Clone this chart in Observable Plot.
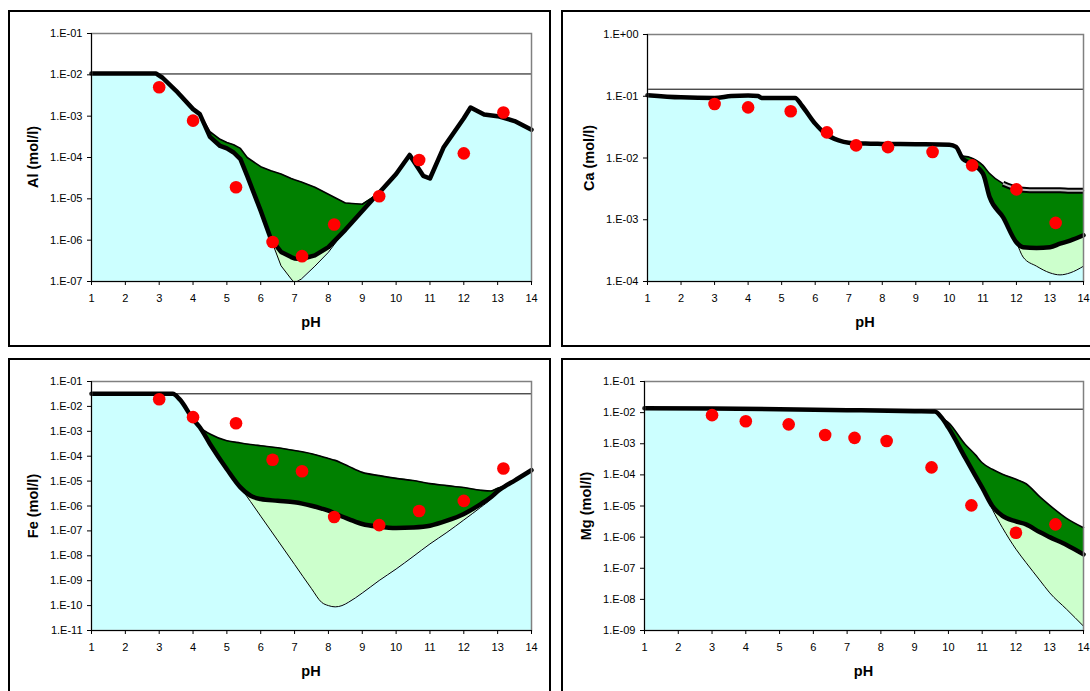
<!DOCTYPE html>
<html><head><meta charset="utf-8">
<script src="https://cdn.jsdelivr.net/npm/d3@7"></script>
<script src="https://cdn.jsdelivr.net/npm/@observablehq/plot@0.6"></script>
<style>
body{margin:0;background:#fff;width:1090px;height:691px;overflow:hidden;position:relative;font-family:"Liberation Sans",Arial,sans-serif;}
.box{position:absolute;border:2px solid #000;box-sizing:border-box;pointer-events:none;}
.panel{position:absolute;}
.ttl{position:absolute;font-weight:bold;font-size:14.5px;white-space:nowrap;transform:translate(-50%,-50%);color:#000;}
.ytl{transform:translate(-50%,-50%) rotate(-90deg);}
</style></head><body>
<script>
// ---------- shared ----------
const xTicks = [1,2,3,4,5,6,7,8,9,10,11,12,13,14];
const dotPH = [3.0, 4.0, 5.27, 6.35, 7.22, 8.17, 9.5, 10.68, 12.0, 13.17];

// ---------- Al ----------
const alTicks = [1e-7,1e-6,1e-5,1e-4,1e-3,1e-2,1e-1];
const alTop = 1.05e-2;
const alPH    = [1, 2, 2.9, 3.1, 3.5, 4, 4.2, 4.5, 4.8, 5, 5.2, 5.4, 5.6, 6, 6.3, 6.6, 6.9, 7, 7.2, 7.6, 8, 8.5, 9, 9.3, 9.5, 10, 10.4, 10.8, 11, 11.4, 12, 12.2, 12.6, 13, 13.5, 14];
const alMid   = [1.08e-2, 1.08e-2, 1.08e-2, 8.5e-3, 4.1e-3, 1.48e-3, 1.12e-3, 3.16e-4, 1.9e-4, 1.66e-4, 1.32e-4, 9.1e-5, 3.6e-5, 5.1e-6, 1.07e-6, 5.2e-7, 3.9e-7, 3.6e-7, 3.5e-7, 4.3e-7, 6.8e-7, 1.78e-6, 5.1e-6, 9.5e-6, 1.41e-5, 4.0e-5, 1.15e-4, 3.6e-5, 3.1e-5, 1.74e-4, 8.9e-4, 1.62e-3, 1.10e-3, 1.0e-3, 7.6e-4, 4.7e-4];
const alUpper = [1.08e-2, 1.08e-2, 1.08e-2, 8.5e-3, 4.1e-3, 1.48e-3, 1.12e-3, 4.2e-4, 2.75e-4, 2.3e-4, 2.04e-4, 1.66e-4, 1.0e-4, 6.0e-5, 4.8e-5, 4.0e-5, 3.1e-5, 2.9e-5, 2.57e-5, 1.9e-5, 1.29e-5, 7.9e-6, 7.4e-6, 1.07e-5, 1.41e-5, 4.0e-5, 1.15e-4, 3.6e-5, 3.1e-5, 1.74e-4, 8.9e-4, 1.62e-3, 1.10e-3, 1.0e-3, 7.6e-4, 4.7e-4];
const alLower = [1.08e-2, 1.08e-2, 1.08e-2, 8.5e-3, 4.1e-3, 1.48e-3, 1.12e-3, 3.16e-4, 1.9e-4, 1.66e-4, 1.32e-4, 9.1e-5, 3.6e-5, 5.1e-6, 1.07e-6, 2.4e-7, 1.15e-7, 9.3e-8, 1.15e-7, 2.35e-7, 5.1e-7, 1.78e-6, 5.1e-6, 9.5e-6, 1.41e-5, 4.0e-5, 1.15e-4, 3.6e-5, 3.1e-5, 1.74e-4, 8.9e-4, 1.62e-3, 1.10e-3, 1.0e-3, 7.6e-4, 4.7e-4];
const alDots  = [5.0e-3, 7.8e-4, 1.9e-5, 9.0e-7, 4.1e-7, 2.4e-6, 1.15e-5, 8.7e-5, 1.26e-4, 1.23e-3];

// ---------- Ca ----------
const caTicks = [1e-4,1e-3,1e-2,1e-1,1e0];
const caTop = 1.3e-1;
const caPH    = [1, 2, 3, 3.5, 4, 4.3, 4.4, 5, 5.4, 5.6, 6, 6.3, 6.7, 7, 7.5, 8, 9, 10, 10.2, 10.4, 10.6, 11, 11.2, 11.6, 12, 12.2, 12.6, 13, 13.3, 13.6, 14];
const caMid   = [1.04e-1, 9.6e-2, 9.4e-2, 1.01e-1, 1.03e-1, 1.01e-1, 9.4e-2, 9.4e-2, 9.4e-2, 7.1e-2, 3.6e-2, 2.48e-2, 1.93e-2, 1.77e-2, 1.71e-2, 1.69e-2, 1.67e-2, 1.64e-2, 1.51e-2, 9.7e-3, 8.4e-3, 5.6e-3, 2.33e-3, 1.10e-3, 4.3e-4, 3.6e-4, 3.5e-4, 3.6e-4, 4.1e-4, 4.6e-4, 5.6e-4];
const caUpper = [1.04e-1, 9.6e-2, 9.4e-2, 1.01e-1, 1.03e-1, 1.01e-1, 9.4e-2, 9.4e-2, 9.4e-2, 7.1e-2, 3.6e-2, 2.48e-2, 1.93e-2, 1.77e-2, 1.71e-2, 1.69e-2, 1.67e-2, 1.64e-2, 1.51e-2, 1.08e-2, 1.03e-2, 7.6e-3, 5.6e-3, 3.84e-3, 3.2e-3, 3.06e-3, 3.0e-3, 3.0e-3, 3.0e-3, 2.95e-3, 2.95e-3];
const caLower = [1.04e-1, 9.6e-2, 9.4e-2, 1.01e-1, 1.03e-1, 1.01e-1, 9.4e-2, 9.4e-2, 9.4e-2, 7.1e-2, 3.6e-2, 2.48e-2, 1.93e-2, 1.77e-2, 1.71e-2, 1.69e-2, 1.67e-2, 1.64e-2, 1.51e-2, 9.7e-3, 8.4e-3, 5.6e-3, 2.33e-3, 1.10e-3, 4.3e-4, 2.48e-4, 1.77e-4, 1.38e-4, 1.28e-4, 1.38e-4, 1.77e-4];
const caDots  = [7.5e-2, 6.6e-2, 5.7e-2, 2.6e-2, 1.6e-2, 1.5e-2, 1.25e-2, 7.6e-3, 3.1e-3, 8.9e-4];

// ---------- Fe ----------
const feTicks = [1e-11,1e-10,1e-9,1e-8,1e-7,1e-6,1e-5,1e-4,1e-3,1e-2,1e-1];
const feTop = 3.2e-2;
const fePH    = [1, 2, 3, 3.4, 3.6, 4, 4.2, 4.5, 5, 5.4, 5.7, 6, 6.5, 7, 7.5, 7.8, 8, 8.2, 8.4, 8.6, 9, 9.5, 10, 10.5, 11, 11.5, 12, 12.5, 12.8, 13, 13.2, 13.5, 14];
const feMid   = [3.2e-2, 3.2e-2, 3.2e-2, 3.2e-2, 1.95e-2, 3.1e-3, 1.45e-3, 3.1e-4, 3.0e-5, 5.6e-6, 2.57e-6, 1.9e-6, 1.62e-6, 1.41e-6, 1.02e-6, 7.9e-7, 6.5e-7, 5.0e-7, 3.8e-7, 3.0e-7, 1.9e-7, 1.48e-7, 1.32e-7, 1.38e-7, 1.62e-7, 2.57e-7, 4.8e-7, 1.2e-6, 2.24e-6, 3.9e-6, 6.0e-6, 1.05e-5, 2.75e-5];
const feUpper = [3.2e-2, 3.2e-2, 3.2e-2, 3.2e-2, 1.95e-2, 3.1e-3, 1.45e-3, 7.8e-4, 4.2e-4, 3.4e-4, 2.95e-4, 2.63e-4, 2.19e-4, 1.7e-4, 1.26e-4, 9.8e-5, 8.1e-5, 6.8e-5, 5.2e-5, 3.9e-5, 2.24e-5, 1.66e-5, 1.29e-5, 1.05e-5, 7.9e-6, 6.6e-6, 5.5e-6, 4.3e-6, 4.0e-6, 5.2e-6, 6.2e-6, 1.05e-5, 2.75e-5];
const feLower = [3.2e-2, 3.2e-2, 3.2e-2, 3.2e-2, 1.95e-2, 3.1e-3, 1.45e-3, 3.1e-4, 3.0e-5, 5.6e-6, 1.5e-6, 3.9e-7, 4.2e-8, 4.5e-9, 4.8e-10, 1.35e-10, 1.0e-10, 8.9e-11, 1.0e-10, 1.38e-10, 3.2e-10, 1.02e-9, 2.95e-9, 9.3e-9, 3.0e-8, 8.7e-8, 2.75e-7, 8.9e-7, 1.9e-6, 3.9e-6, 6.0e-6, 1.05e-5, 2.75e-5];
const feDots  = [1.95e-2, 3.7e-3, 2.1e-3, 7.2e-5, 2.5e-5, 3.6e-7, 1.7e-7, 6.3e-7, 1.6e-6, 3.2e-5];

// ---------- Mg ----------
const mgTicks = [1e-9,1e-8,1e-7,1e-6,1e-5,1e-4,1e-3,1e-2,1e-1];
const mgTop = 1.29e-2;
const mgPH    = [1, 3, 5, 7, 9, 9.6, 9.8, 10, 10.5, 10.8, 11, 11.3, 11.6, 12, 12.3, 12.7, 13, 13.5, 14];
const mgMid   = [1.39e-2, 1.35e-2, 1.29e-2, 1.2e-2, 1.11e-2, 1.08e-2, 6.9e-3, 3.3e-3, 3.5e-4, 9.3e-5, 3.9e-5, 1.0e-5, 4.8e-6, 3.2e-6, 2.57e-6, 1.45e-6, 1.0e-6, 5.6e-7, 2.8e-7];
const mgUpper = [1.39e-2, 1.35e-2, 1.29e-2, 1.2e-2, 1.11e-2, 1.08e-2, 6.9e-3, 4.8e-3, 9.5e-4, 4.4e-4, 2.45e-4, 1.51e-4, 1.05e-4, 7.2e-5, 5.2e-5, 2.0e-5, 1.05e-5, 4.0e-6, 2.0e-6];
const mgLower = [1.39e-2, 1.35e-2, 1.29e-2, 1.2e-2, 1.11e-2, 1.08e-2, 6.9e-3, 3.3e-3, 3.5e-4, 9.3e-5, 3.9e-5, 7.8e-6, 2.0e-6, 4.1e-7, 1.51e-7, 4.2e-8, 1.62e-8, 4.8e-9, 1.38e-9];
const mgDots  = [8.3e-3, 5.3e-3, 4.2e-3, 1.9e-3, 1.54e-3, 1.23e-3, 1.74e-4, 1.05e-5, 1.38e-6, 2.57e-6];

// ---------- drawing ----------
const fmt = d => { const e = Math.round(Math.log10(d)); return "1.E" + (e < 0 ? "-" : "+") + String(Math.abs(e)).padStart(2, "0"); };

function panel(cfg) {
  const rows = cfg.ph.map((p, i) => ({pH: p, upper: cfg.upper[i], mid: cfg.mid[i], lower: cfg.lower[i]}));
  const dots = dotPH.map((p, i) => ({pH: p, c: cfg.dots[i]}));
  const ymin = cfg.ticks[0], ymax = cfg.ticks[cfg.ticks.length - 1];
  const curve = cfg.curve;
  const upperMarks = [Plot.line(rows, {x: "pH", y: "upper", stroke: "#000", strokeWidth: 1.6, curve})];
  if (cfg.grayUpper) {
    const tail = rows.filter(d => d.pH >= 11.6);
    upperMarks.push(
      Plot.line(tail, {x: "pH", y: "upper", stroke: "#000", strokeWidth: 6, strokeLinecap: "butt", curve}),
      Plot.line(tail, {x: "pH", y: "upper", stroke: "#C0C0C0", strokeWidth: 2, strokeLinecap: "butt", curve}));
  }
  const svg = Plot.plot({
    width: cfg.w, height: cfg.h,
    marginLeft: cfg.mL, marginRight: cfg.mR, marginTop: cfg.mT, marginBottom: cfg.mB,
    style: {fontFamily: "'Liberation Sans', Arial, sans-serif", fontSize: "11px", color: "#000", background: "transparent", overflow: "visible"},
    x: {domain: [1, 14]},
    y: {type: "log", domain: [ymin, ymax]},
    marks: [
      Plot.areaY(rows, {x: "pH", y1: ymin, y2: "lower", fill: "#CCFFFF", curve, clip: true}),
      Plot.areaY(rows, {x: "pH", y1: "lower", y2: "mid", fill: "#CCFFCC", curve, clip: true}),
      Plot.areaY(rows, {x: "pH", y1: "mid", y2: "upper", fill: "#008000", curve, clip: true}),
      Plot.ruleY([cfg.top], {stroke: "#000", strokeWidth: 1}),
      Plot.line(rows, {x: "pH", y: "lower", stroke: "#000", strokeWidth: 1, curve, clip: true}),
      ...upperMarks,
      Plot.line(rows, {x: "pH", y: "mid", stroke: "#000", strokeWidth: 4.5, curve}),
      Plot.frame({stroke: "#808080", strokeWidth: 1.5}),
      Plot.ruleX([1], {stroke: "#000", strokeWidth: 1}),
      Plot.ruleY([ymin], {stroke: "#000", strokeWidth: 1}),
      Plot.axisX({ticks: xTicks, tickSize: 4, tickPadding: 9, tickFormat: d => String(d), label: null}),
      Plot.axisY({ticks: cfg.ticks, tickSize: 4, tickPadding: 5, tickFormat: fmt, label: null}),
      Plot.dot(dots, {x: "pH", y: "c", r: 6.3, fill: "#FF0000", stroke: "none"})
    ]
  });
  svg.classList.add("panel");
  svg.style.left = cfg.left + "px";
  svg.style.top = cfg.top0 + "px";
  document.body.appendChild(svg);
  const plotL = cfg.left + cfg.mL, plotR = cfg.left + cfg.w - cfg.mR;
  const plotT = cfg.top0 + cfg.mT, plotB = cfg.top0 + cfg.h - cfg.mB;
  const yt = document.createElement("div");
  yt.className = "ttl ytl"; yt.textContent = cfg.yTitle;
  yt.style.left = (plotL - 58) + "px"; yt.style.top = ((plotT + plotB) / 2) + "px";
  document.body.appendChild(yt);
  const xt = document.createElement("div");
  xt.className = "ttl"; xt.textContent = "pH";
  xt.style.left = ((plotL + plotR) / 2) + "px"; xt.style.top = (plotB + 41) + "px";
  document.body.appendChild(xt);
}

panel({left: 8, top0: 10, w: 542, h: 336, mL: 83, mR: 19, mT: 23, mB: 65, ph: alPH, upper: alUpper, mid: alMid, lower: alLower, dots: alDots, ticks: alTicks, top: alTop, yTitle: "Al (mol/l)", curve: "linear"});
panel({left: 562, top0: 10, w: 528, h: 336, mL: 85, mR: 7, mT: 24, mB: 65, ph: caPH, upper: caUpper, mid: caMid, lower: caLower, dots: caDots, ticks: caTicks, top: caTop, yTitle: "Ca (mol/l)", curve: "monotone-x", grayUpper: true});
panel({left: 8, top0: 359, w: 542, h: 332, mL: 83, mR: 19, mT: 22, mB: 61, ph: fePH, upper: feUpper, mid: feMid, lower: feLower, dots: feDots, ticks: feTicks, top: feTop, yTitle: "Fe (mol/l)", curve: "monotone-x"});
panel({left: 562, top0: 359, w: 528, h: 332, mL: 82, mR: 7, mT: 22, mB: 61, ph: mgPH, upper: mgUpper, mid: mgMid, lower: mgLower, dots: mgDots, ticks: mgTicks, top: mgTop, yTitle: "Mg (mol/l)", curve: "monotone-x"});

// panel boxes
[[8, 10, 543, 337], [561, 10, 545, 337], [8, 358, 543, 400], [561, 358, 545, 400]].forEach(([l, t, w, h]) => {
  const b = document.createElement("div");
  b.className = "box";
  Object.assign(b.style, {left: l + "px", top: t + "px", width: w + "px", height: h + "px"});
  document.body.appendChild(b);
});
</script>
</body></html>
